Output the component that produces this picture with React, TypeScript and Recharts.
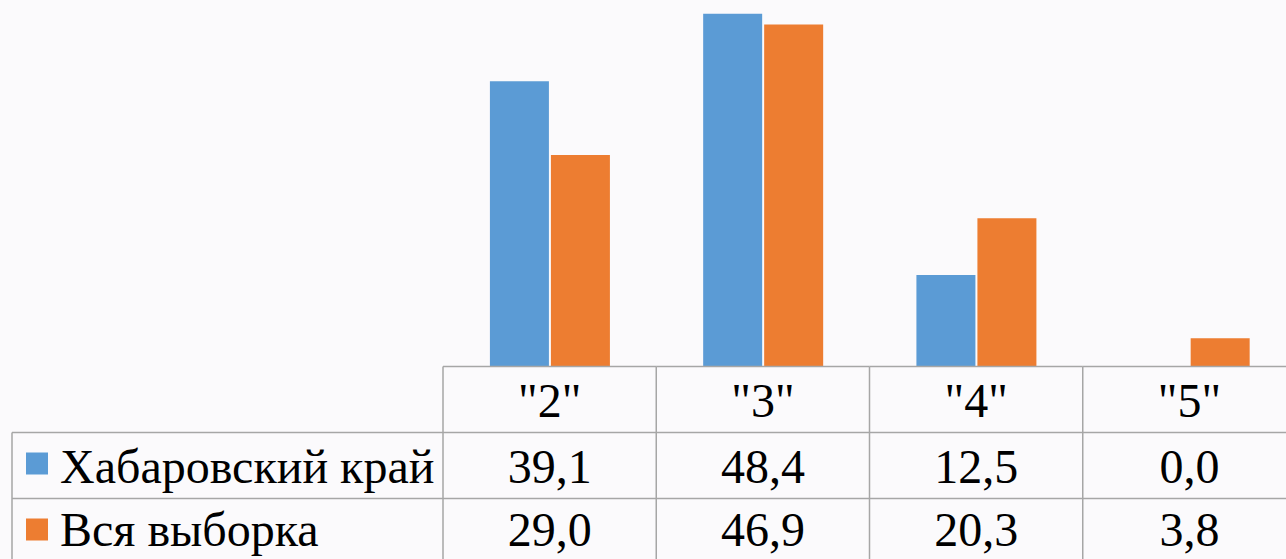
import React from 'react';
import { ComposedChart, Bar, XAxis, YAxis } from 'recharts';

const categories = ['"2"', '"3"', '"4"', '"5"'];
const khabarovsk = [39.1, 48.4, 12.5, 0.0];
const wholeSample = [29.0, 46.9, 20.3, 3.8];
const seriesNames = ['Хабаровский край', 'Вся выборка'];
const seriesColors = ['#5b9bd5', '#ed7d31'];

const chartData = categories.map((cat, i) => ({
  cat,
  khabarovsk: khabarovsk[i],
  wholeSample: wholeSample[i],
}));

const CHART_W = 1300;
const MARGIN_LEFT = 443;
const MARGIN_RIGHT = 4;
const COL_W = (CHART_W - MARGIN_LEFT - MARGIN_RIGHT) / categories.length;
const ROW_H = 66;
const GRID = '#a6a6a6';
const FONT = 'Liberation Serif';
const FONT_SIZE = 48;

const fmt = (v: number) => v.toFixed(1).replace('.', ',');

const Cell = ({ x, y, anchor = 'middle', children }: any) => (
  <text
    x={x}
    y={y}
    textAnchor={anchor}
    fontFamily={FONT}
    fontSize={FONT_SIZE}
    fill="#000"
    style={{ fontFamily: FONT, fontSize: FONT_SIZE }}
  >
    {children}
  </text>
);

// draws one column of the data table under each category, plus the legend column for the first one
const TableTick = (props: any) => {
  const { x, y, payload } = props;
  const i = payload.index;
  const left = x - COL_W / 2;
  const right = x + COL_W / 2;
  const top = y + 0.5;
  const rows = [khabarovsk, wholeSample];

  return (
    <g>
      <line x1={left} x2={right} y1={top} y2={top} stroke={GRID} strokeWidth={1.5} />
      <line x1={left} x2={right} y1={top + ROW_H} y2={top + ROW_H} stroke={GRID} strokeWidth={1.5} />
      <line x1={left} x2={right} y1={top + ROW_H * 2} y2={top + ROW_H * 2} stroke={GRID} strokeWidth={1.5} />
      <line x1={left} x2={left} y1={top} y2={top + ROW_H * 3} stroke={GRID} strokeWidth={1.5} />
      {i === categories.length - 1 && (
        <line x1={right} x2={right} y1={top} y2={top + ROW_H * 3} stroke={GRID} strokeWidth={1.5} />
      )}
      <Cell x={x} y={top + 50}>{payload.value}</Cell>
      {rows.map((r, k) => (
        <Cell key={k} x={x} y={top + ROW_H * (k + 1) + 50 - k * 3}>
          {fmt(r[i])}
        </Cell>
      ))}
      {i === 0 && (
        <g>
          <line x1={12} x2={left} y1={top + ROW_H} y2={top + ROW_H} stroke={GRID} strokeWidth={1.5} />
          <line x1={12} x2={left} y1={top + ROW_H * 2} y2={top + ROW_H * 2} stroke={GRID} strokeWidth={1.5} />
          <line x1={12} x2={12} y1={top + ROW_H} y2={top + ROW_H * 3} stroke={GRID} strokeWidth={1.5} />
          {seriesNames.map((name, k) => (
            <g key={name}>
              <rect x={26} y={top + ROW_H * (k + 1) + 20} width={22} height={22} fill={seriesColors[k]} />
              <Cell x={60} y={top + ROW_H * (k + 1) + 50 - k * 3} anchor="start">
                {name}
              </Cell>
            </g>
          ))}
        </g>
      )}
    </g>
  );
};

export default function App() {
  return (
    <div
      style={{
        position: 'absolute',
        left: 0,
        top: 0,
        width: 1286,
        height: 559,
        overflow: 'hidden',
        background: '#fbfafc',
        fontFamily: FONT,
      }}
    >
      <ComposedChart
        width={CHART_W}
        height={559}
        data={chartData}
        margin={{ top: 2, right: MARGIN_RIGHT, left: MARGIN_LEFT, bottom: 0 }}
        barCategoryGap="22%"
        barGap={2}
        style={{ fontFamily: FONT }}
      >
        <YAxis hide domain={[0, 50]} />
        <XAxis
          dataKey="cat"
          height={193}
          axisLine={false}
          tickLine={false}
          tickSize={0}
          tickMargin={0}
          interval={0}
          tick={<TableTick />}
        />
        <Bar dataKey="khabarovsk" name={seriesNames[0]} fill={seriesColors[0]} isAnimationActive={false} />
        <Bar dataKey="wholeSample" name={seriesNames[1]} fill={seriesColors[1]} isAnimationActive={false} />
      </ComposedChart>
    </div>
  );
}
